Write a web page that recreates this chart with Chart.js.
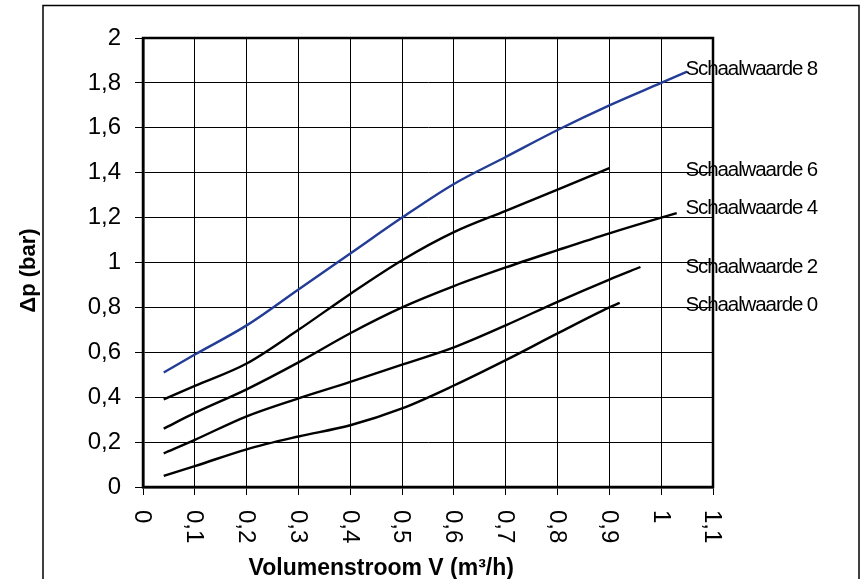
<!DOCTYPE html>
<html>
<head>
<meta charset="utf-8">
<script src="https://cdn.jsdelivr.net/npm/chart.js@4/dist/chart.umd.min.js"></script>
<style>
  html, body { margin: 0; padding: 0; background: #fff; }
  canvas { display: block; }
</style>
</head>
<body>
<canvas id="chart" width="864" height="579"></canvas>
<script>
// Pressure drop versus volume flow for each dial setting
const seriesNames = ['Schaalwaarde 8', 'Schaalwaarde 6', 'Schaalwaarde 4', 'Schaalwaarde 2', 'Schaalwaarde 0'];

const flow8 = [0.04, 0.1, 0.2, 0.3, 0.4, 0.5, 0.6, 0.7, 0.8, 0.9, 1.0, 1.05];
const dp8   = [0.51, 0.59, 0.72, 0.88, 1.04, 1.20, 1.35, 1.47, 1.59, 1.70, 1.80, 1.85];

const flow6 = [0.04, 0.1, 0.2, 0.3, 0.4, 0.5, 0.6, 0.7, 0.8, 0.9];
const dp6   = [0.39, 0.45, 0.55, 0.70, 0.86, 1.01, 1.135, 1.23, 1.325, 1.42];

const flow4 = [0.04, 0.1, 0.2, 0.3, 0.4, 0.5, 0.6, 0.7, 0.8, 0.9, 1.0, 1.03];
const dp4   = [0.26, 0.33, 0.435, 0.555, 0.685, 0.80, 0.895, 0.978, 1.055, 1.13, 1.20, 1.22];

const flow2 = [0.04, 0.1, 0.2, 0.3, 0.4, 0.5, 0.6, 0.7, 0.8, 0.9, 0.96];
const dp2   = [0.15, 0.21, 0.315, 0.395, 0.468, 0.545, 0.622, 0.72, 0.825, 0.924, 0.98];

const flow0 = [0.04, 0.1, 0.2, 0.3, 0.4, 0.5, 0.6, 0.7, 0.8, 0.9, 0.92];
const dp0   = [0.05, 0.093, 0.168, 0.225, 0.275, 0.35, 0.452, 0.565, 0.684, 0.80, 0.82];

const xTickLabels = ['0', '0,1', '0,2', '0,3', '0,4', '0,5', '0,6', '0,7', '0,8', '0,9', '1', '1,1'];
const yTickLabels = ['0', '0,2', '0,4', '0,6', '0,8', '1', '1,2', '1,4', '1,6', '1,8', '2'];

const xTitle = 'Volumenstroom V (m³/h)';
const yTitle = '\u0394p (bar)';

const seriesColors = ['#233c96', '#000000', '#000000', '#000000', '#000000'];

const FONT = '"Liberation Sans", Arial, sans-serif';

function toPoints(xs, ys) {
  return xs.map((x, i) => ({ x: x, y: ys[i] }));
}

const seriesData = [
  toPoints(flow8, dp8),
  toPoints(flow6, dp6),
  toPoints(flow4, dp4),
  toPoints(flow2, dp2),
  toPoints(flow0, dp0)
];

// Where each series name is written, in axis units
const nameAnchorX = 1.047;
const nameAnchorY = [1.861, 1.411, 1.242, 0.979, 0.810];

const decorations = {
  id: 'decorations',
  afterDraw(chart) {
    const ctx = chart.ctx;
    const area = chart.chartArea;
    const xs = chart.scales.x;
    const ys = chart.scales.y;
    ctx.save();

    // outer frame of the figure
    ctx.strokeStyle = '#000';
    ctx.lineWidth = 1.5;
    ctx.strokeRect(43, 5.5, 816, 700);

    // heavy border round the plot area
    ctx.lineWidth = 2.5;
    ctx.strokeRect(area.left, area.top, area.right - area.left, area.bottom - area.top);

    // x tick labels, turned a quarter clockwise
    ctx.fillStyle = '#000';
    ctx.font = '24px ' + FONT;
    ctx.textAlign = 'left';
    ctx.textBaseline = 'middle';
    xs.ticks.forEach((t, i) => {
      const px = xs.getPixelForValue(t.value);
      ctx.save();
      ctx.translate(px, area.bottom + 23);
      ctx.rotate(Math.PI / 2);
      ctx.fillText(xTickLabels[i] || '', 0, 1);
      ctx.restore();
    });

    // axis titles
    ctx.font = 'bold 23px ' + FONT;
    ctx.textAlign = 'center';
    ctx.textBaseline = 'alphabetic';
    ctx.fillText(xTitle, area.left + (area.right - area.left) * 0.418, 575);

    ctx.save();
    ctx.translate(35, (area.top + area.bottom) / 2 + 8);
    ctx.rotate(-Math.PI / 2);
    ctx.font = 'bold 22px ' + FONT;
    ctx.fillText(yTitle, 0, 0);
    ctx.restore();

    // series names
    ctx.font = '20.5px ' + FONT;
    ctx.letterSpacing = '-1.1px';
    ctx.textAlign = 'left';
    ctx.textBaseline = 'middle';
    seriesNames.forEach((name, i) => {
      ctx.fillText(name, xs.getPixelForValue(nameAnchorX), ys.getPixelForValue(nameAnchorY[i]));
    });

    ctx.restore();
  }
};

new Chart(document.getElementById('chart'), {
  type: 'scatter',
  data: {
    datasets: seriesNames.map((name, i) => ({
      label: name,
      data: seriesData[i],
      showLine: true,
      borderColor: seriesColors[i],
      backgroundColor: seriesColors[i],
      borderWidth: 2.4,
      pointRadius: 0,
      pointHoverRadius: 0,
      cubicInterpolationMode: 'monotone',
      fill: false
    }))
  },
  options: {
    responsive: false,
    animation: false,
    events: [],
    layout: { padding: { left: 0, right: 151, top: 38, bottom: 0 } },
    plugins: {
      legend: { display: false },
      tooltip: { enabled: false },
      title: { display: false }
    },
    scales: {
      x: {
        type: 'linear',
        min: 0,
        max: 1.1,
        afterFit(scale) { scale.height = 92; },
        ticks: {
          stepSize: 0.1,
          autoSkip: false,
          maxRotation: 0,
          color: 'rgba(0,0,0,0)',
          font: { size: 24, family: FONT },
          callback: (v, i) => xTickLabels[i]
        },
        grid: { color: '#000', lineWidth: 1, tickLength: 8, tickColor: '#000' },
        border: { display: true, color: '#000', width: 2.5 }
      },
      y: {
        type: 'linear',
        min: 0,
        max: 2,
        afterFit(scale) { scale.width = 143; },
        ticks: {
          stepSize: 0.2,
          padding: 14,
          color: '#000',
          font: { size: 24, family: FONT },
          callback: (v, i) => yTickLabels[i]
        },
        grid: { color: '#000', lineWidth: 1, tickLength: 8, tickColor: '#000' },
        border: { display: true, color: '#000', width: 2.5 }
      }
    }
  },
  plugins: [decorations]
});
</script>
</body>
</html>
